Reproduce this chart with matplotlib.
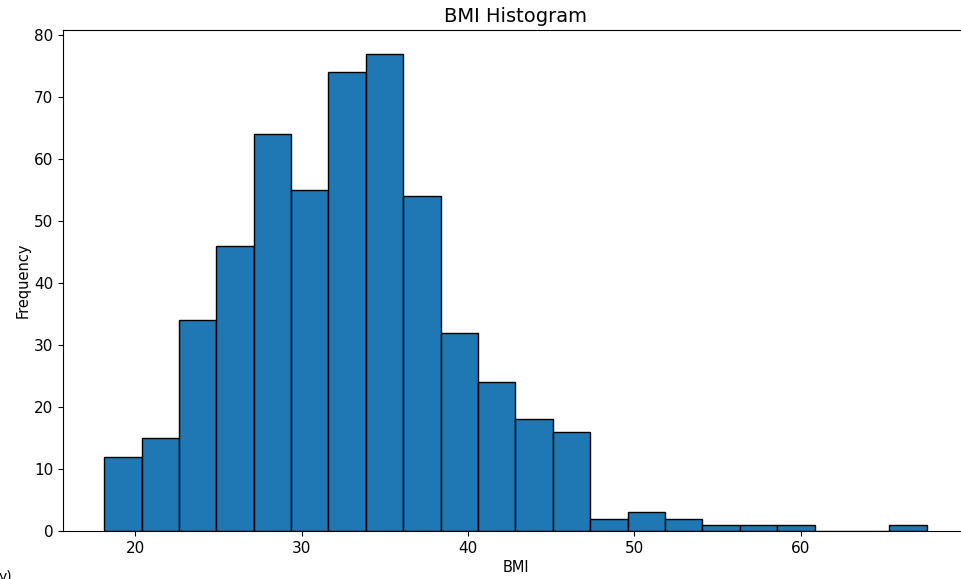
import numpy as np
import matplotlib
matplotlib.use("Agg")
import matplotlib.pyplot as plt

# BMI histogram counts, 22 equal bins
bmi_min, bmi_max = 18.14, 67.56
counts = [12, 15, 34, 46, 64, 55, 74, 77, 54, 32, 24,
          18, 16, 2, 3, 2, 1, 1, 1, 0, 0, 1]
x_ticks = [20, 30, 40, 50, 60]
y_ticks = [0, 10, 20, 30, 40, 50, 60, 70, 80]

edges = np.linspace(bmi_min, bmi_max, len(counts) + 1)

fig = plt.figure(figsize=(9.61, 5.79), dpi=100)
ax = fig.add_axes([63 / 961, 48 / 579, 906 / 961, 501 / 579])

ax.hist(edges[:-1], bins=edges, weights=counts, color='#1f77b4', edgecolor='black')
ax.set_xlim(15.67, 70.1)
ax.set_xticks(x_ticks)
ax.set_yticks(y_ticks)
ax.tick_params(labelsize=11)
ax.set_title("BMI Histogram", fontsize=14)
ax.set_xlabel("BMI", fontsize=10.5, labelpad=3)
ax.set_ylabel("Frequency", fontsize=10.5, labelpad=2)

# stray text fragment at the lower left corner of the crop
fig.text(-0.002, -0.008, "y)", fontsize=10, ha='left', va='bottom')

fig.savefig("out.png", dpi=100)
